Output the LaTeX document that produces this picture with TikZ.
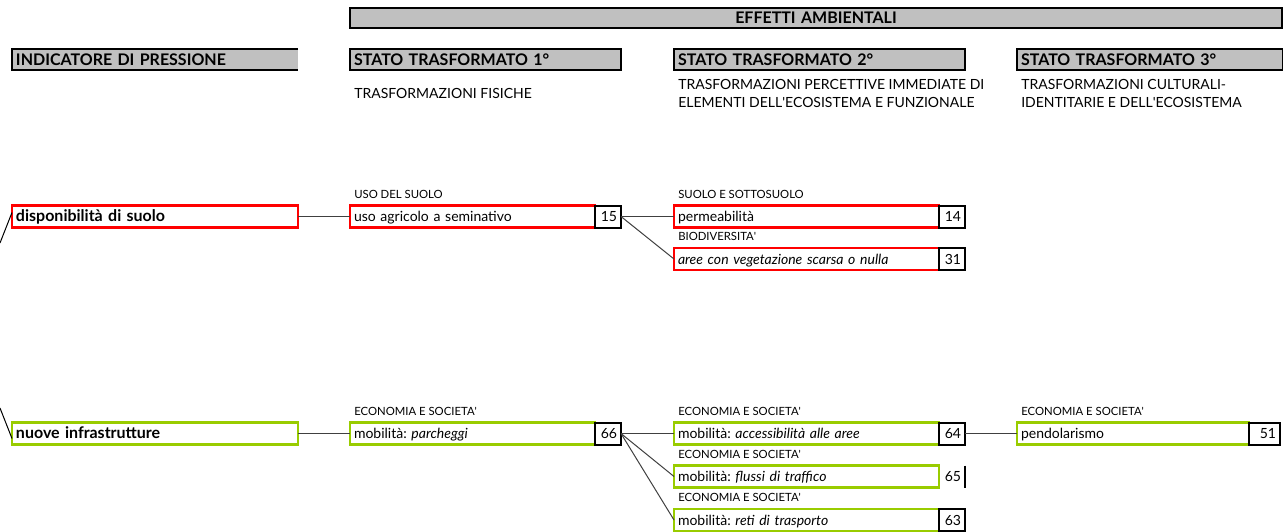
\documentclass[tikz,border=0pt]{standalone}
\usepackage{fontspec}
\setmainfont{Lato}
\usetikzlibrary{positioning}
\definecolor{headgray}{HTML}{C0C0C0}
\definecolor{pressred}{HTML}{FF0000}
\definecolor{pressgreen}{HTML}{99CC00}
\newcommand{\apo}{\textquotesingle}
\frenchspacing
\tikzset{
  hdr/.style={draw, fill=headgray, line width=1.5pt, outer sep=0pt, inner xsep=3pt, inner ysep=0pt,
    minimum height=15.75pt, text height=8.4pt, text depth=0pt, text width=#1, align=left, anchor=west,
    font=\bfseries\fontsize{12}{13}\selectfont},
  subtitle/.style={anchor=north west, inner sep=0pt, align=left, font=\fontsize{10.5}{13.5}\selectfont},
  cell/.style={draw, line width=1.5pt, outer sep=0pt, inner xsep=3pt, inner ysep=0pt,
    minimum height=16.5pt, text height=9pt, text depth=1pt, text width=#1, align=left, anchor=west,
    font=\fontsize{10.5}{12}\selectfont},
  redcell/.style={cell=#1, draw=pressred, line width=2pt},
  greencell/.style={cell=#1, draw=pressgreen, line width=2pt},
  num/.style={cell=#1, align=right, draw=black},
  tag/.style={inner xsep=3pt, inner ysep=0pt, font=\fontsize{8.5}{10}\selectfont},
  link/.style={draw=black!75, line width=0.75pt}
}
\begin{document}
\begin{tikzpicture}[x=0.75pt,y=-0.75pt]
\useasboundingbox (0,0) rectangle (1283,532);
% intestazioni
\node[hdr=693pt, align=center, minimum height=15pt] (eff) at (350,18) {EFFETTI AMBIENTALI};
\node[hdr=208.5pt, draw=none] (ind) at (12,59.5) {INDICATORE DI PRESSIONE};
\draw[line width=1.5pt] (ind.north east) -- (ind.north west) -- (ind.south west) -- (ind.south east);
\foreach \n/\x/\w in {1/350/197.25pt, 2/674/212.25pt, 3/1017/193.5pt}
  \node[hdr=\w] (st\n) at (\x,59.5) {STATO TRASFORMATO \n°};
\node[subtitle] (sub1) at (354,88) {TRASFORMAZIONI FISICHE};
\node[subtitle] (sub2) at (678,79) {TRASFORMAZIONI PERCETTIVE IMMEDIATE DI\\ELEMENTI DELL\apo ECOSISTEMA E FUNZIONALE};
\node[subtitle] (sub3) at (1021,79) {TRASFORMAZIONI CULTURALI-\\IDENTITARIE E DELL\apo ECOSISTEMA};

% disponibilita di suolo
\node[redcell=208.5pt, font=\bfseries\fontsize{12}{13}\selectfont] (disp) at (12,216.5) {disponibilità di suolo};
\node[redcell=177.75pt] (agr) at (350,216.5) {uso agricolo a seminativo};
\node[num=13.5pt, right=0pt of agr] (agrn) {15};
\node[tag, above right=5pt and 0pt of agr.north west] (agrt) {USO DEL SUOLO};
\node[redcell=192.75pt] (perm) at (674,216.5) {permeabilità};
\node[num=13.5pt, right=0pt of perm] (permn) {14};
\node[tag, above right=5pt and 0pt of perm.north west] (permt) {SUOLO E SOTTOSUOLO};
\node[redcell=192.75pt] (veg) at (674,259) {\textit{aree con vegetazione scarsa o nulla}};
\node[num=13.5pt, right=0pt of veg] (vegn) {31};
\node[tag, above right=5pt and 0pt of veg.north west] (vegt) {BIODIVERSITA\apo};

% nuove infrastrutture
\node[greencell=208.5pt, font=\bfseries\fontsize{12}{13}\selectfont] (infr) at (12,433.5) {nuove infrastrutture};
\node[greencell=177.75pt] (park) at (350,433.5) {mobilità: \textit{parcheggi}};
\node[num=13.5pt, right=0pt of park] (parkn) {66};
\node[tag, above right=5pt and 0pt of park.north west] (parkt) {ECONOMIA E SOCIETA\apo};
\node[greencell=192.75pt] (acc) at (674,433.5) {mobilità: \textit{accessibilità alle aree}};
\node[num=13.5pt, right=0pt of acc] (accn) {64};
\node[tag, above right=5pt and 0pt of acc.north west] (acct) {ECONOMIA E SOCIETA\apo};
\node[greencell=192.75pt] (flu) at (674,476.5) {mobilità: \textit{flussi di traffico}};
\node[num=13.5pt, draw=none, right=0pt of flu] (flun) {65};
\draw[line width=1.5pt] (flun.north east) -- (flun.south east);
\node[tag, above right=5pt and 0pt of flu.north west] (flut) {ECONOMIA E SOCIETA\apo};
\node[greencell=192.75pt] (reti) at (674,520) {mobilità: \textit{reti di trasporto}};
\node[num=13.5pt, right=0pt of reti] (retin) {63};
\node[tag, above right=5pt and 0pt of reti.north west] (retit) {ECONOMIA E SOCIETA\apo};
\node[greencell=168pt] (pend) at (1017,433.5) {pendolarismo};
\node[num=17.25pt, right=0pt of pend] (pendn) {51};
\node[tag, above right=5pt and 0pt of pend.north west] (pendt) {ECONOMIA E SOCIETA\apo};

% collegamenti
\coordinate (dispin) at (0,243);
\coordinate (infrin) at (0,408);
\draw[line width=0.75pt] (dispin) -- ([yshift=3pt]disp.west);
\draw[line width=0.75pt] (infrin) -- ([yshift=-3.75pt]infr.west);
\draw[link] (disp) -- (agr);
\draw[link] (agrn.east) -- (perm.west);
\draw[link] (agrn.east) -- (veg.west);
\draw[link] (infr) -- (park);
\draw[link] (parkn.east) -- (acc.west);
\draw[link] (parkn.east) -- (flu.west);
\draw[link] (parkn.east) -- (reti.west);
\draw[link] (accn.east) -- (pend.west);
\end{tikzpicture}
\end{document}
